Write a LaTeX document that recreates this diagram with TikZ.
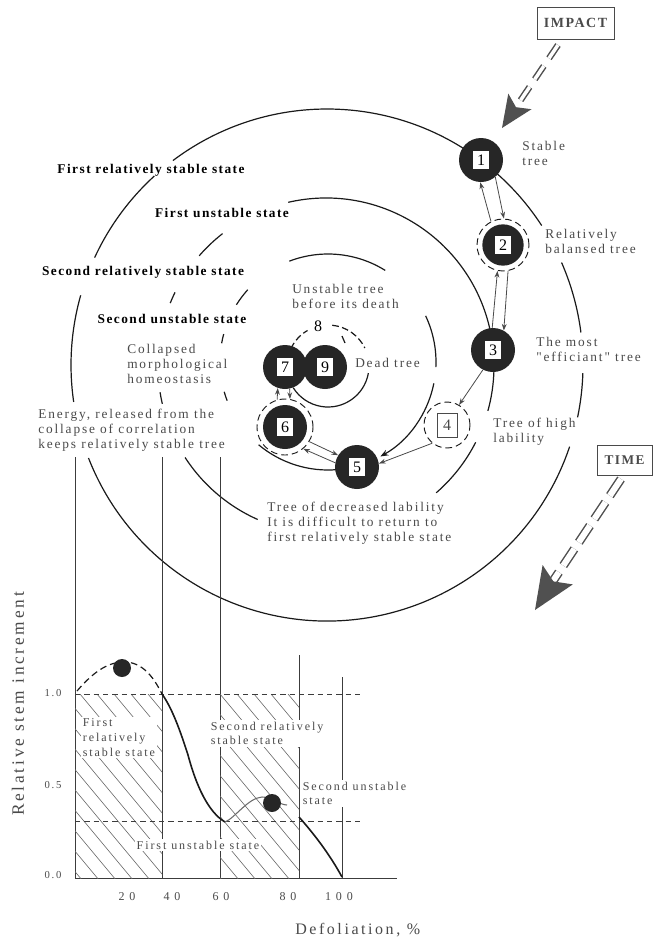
\documentclass[tikz,border=0pt]{standalone}
\usepackage{fontspec}
\setmainfont{Liberation Serif}
\newfontfamily\lblfont[LetterSpace=14]{Liberation Serif}
\newfontfamily\boldfont[LetterSpace=11]{Liberation Serif}
\newfontfamily\chartfont[LetterSpace=16]{Liberation Serif}
\newfontfamily\tickfont[LetterSpace=40]{Liberation Serif}
\newfontfamily\axisfont[LetterSpace=16]{Liberation Serif}
\usetikzlibrary{arrows.meta}
\definecolor{dk}{HTML}{262626}
\definecolor{gt}{HTML}{4A4A4A}
\definecolor{ln}{HTML}{1A1A1A}
\definecolor{ar}{HTML}{505050}
\definecolor{ht}{HTML}{6A6A6A}
\begin{document}
\begin{tikzpicture}[x=0.75pt,y=-0.75pt,
  dkc/.style={circle,fill=dk,minimum size=#1,inner sep=0pt},
  dkc/.default=33pt,
  dring/.style={circle,draw=ln,line width=0.7pt,dash pattern=on 5pt off 3pt,minimum size=#1,inner sep=0pt},
  numsq/.style={fill=white,minimum width=12.5pt,minimum height=13.5pt,inner sep=0pt,font=\fontsize{12}{12}\selectfont},
  tarr/.style={draw=gt,line width=0.6pt,-{Stealth[length=5pt,width=3.6pt]}},
  spl/.style={draw=ln,line width=0.9pt},
  glab/.style={anchor=north west,align=left,text=gt,font=\lblfont\fontsize{10}{11.3}\selectfont,inner sep=0pt},
  blab/.style={text=black,font=\boldfont\bfseries\fontsize{10}{12}\selectfont,inner sep=0pt},
  clab/.style={text=gt,font=\chartfont\fontsize{9}{11}\selectfont,fill=white,inner sep=1.2pt,align=left},
  gridl/.style={draw=ln!85,line width=0.6pt},
  hdash/.style={draw=ln!85,line width=0.6pt,dash pattern=on 4pt off 3pt},
  hatchl/.style={draw=ht,line width=0.45pt},
  dblarr/.style={draw=ar,line width=1.1pt,double=white,double distance=#1},
]
\useasboundingbox (0,0) rectangle (653,940);
\fill[white] (0,0) rectangle (653,940);

% ---------- spiral rings ----------
% outer ring (through 1)
\foreach \a/\b in {233/305,307/327,336.4/352.7,361.8/371.8,378.6/518.7,171.7/195.8,204.8/227.6}
  \draw[spl] (327,365) ++(\a:256) arc[start angle=\a,end angle=\b,radius=256];
% ring through 3
\foreach \a/\b in {257/375.5,27/49,114/147,167/171,202/206,221/232}
  \draw[spl] (326,366) ++(\a:168) arc[start angle=\a,end angle=\b,radius=168];
% ring through 5
\foreach \a/\b in {249/302,334.7/362.7,85/130,159/164,190/195,212/222}
  \draw[spl] (328,362) ++(\a:108) arc[start angle=\a,end angle=\b,radius=108];
% inner loop round 9
\draw[spl] (328,366) ++(370:41) arc[start angle=370,end angle=508,radius=41];
\draw[spl,dash pattern=on 5pt off 2.5pt] (328,366) ++(276:41) arc[start angle=276,end angle=334,radius=41];
\draw[spl,dash pattern=on 5pt off 2.5pt] (328,366) ++(205:41) arc[start angle=205,end angle=240,radius=41];
\draw[spl] (342,336) -- (345,343);

% ---------- state nodes ----------
\node[dkc] (n1) at (481,160) {};
\node[numsq] (s1) at (n1) {1};
\node[dkc=31pt] (c2) at (503,245) {};
\node[dring=39pt] (n2) at (503,245) {};
\node[numsq] (s2) at (n2) {2};
\node[dkc] (n3) at (493,350) {};
\node[numsq] (s3) at (n3) {3};
\node[dring=34.5pt,fill=white] (n4) at (447,425) {};
\node[numsq,draw=gt,line width=0.5pt,minimum width=15pt,minimum height=18pt,text=gt] (s4) at (n4) {4};
\node[dkc] (n5) at (357,467) {};
\node[numsq] (s5) at (n5) {5};
\node[dkc] (c6) at (285,427) {};
\node[dring=42pt] (n6) at (285,427) {};
\node[numsq] (s6) at (n6) {6};
\node[dkc] (n7) at (285,367) {};
\node[dkc] (n9) at (325,367) {};
\node[numsq] (s7) at (n7) {7};
\node[numsq] (s9) at (n9) {9};
\node[font=\fontsize{12}{12}\selectfont,inner sep=0pt] (n8) at (318,326) {8};

% ring arrow into 5
\draw[spl,-{Stealth[length=6pt,width=4.5pt]}] (328,362) ++(371.4:108) arc[start angle=371.4,end angle=421,radius=108];

% ---------- transitions ----------
\draw[tarr] (n2.117) -- (n1.268);
\draw[tarr] (n1.310) -- (n2.88);
\draw[tarr] (n3.92) -- (n2.258);
\draw[tarr] (n2.281) -- (n3.61);
\draw[tarr] (n3.243) -- (n4.59);
\draw[tarr] (n4.231) -- (n5.9);
\draw[tarr] (n6.329) -- (n5.148);
\draw[tarr] (n5.169) -- (n6.310);
\draw[tarr] (n6.106) -- (n7.251);
\draw[tarr] (n7.282) -- (n6.80);

% ---------- node labels ----------
\node[glab] (t1) at (522,141) {Stable\\tree};
\node[glab] (t2) at (545,229) {Relatively\\balansed tree};
\node[glab] (t3) at (536,337) {The most\\"efficiant" tree};
\node[glab] (t4) at (493,418) {Tree of high\\lability};
\node[glab] (t8) at (292,284) {Unstable tree\\before its death};
\node[glab,anchor=west] (t9) at (355,363) {Dead tree};
\node[glab] (tc) at (127,344) {Collapsed\\morphological\\homeostasis};
\node[glab] (te) at (38,409) {Energy, released from the\\collapse of correlation\\keeps relatively stable tree};
\node[glab] (t5) at (267,502) {Tree of decreased lability\\It is difficult to return to\\first relatively stable state};

\node[blab] (b1) at (151,170) {First relatively stable state};
\node[blab] (b2) at (222,213) {First unstable state};
\node[blab] (b3) at (143,272) {Second relatively stable state};
\node[blab] (b4) at (172,319) {Second unstable state};

% ---------- IMPACT / TIME ----------
\node[draw=gt,line width=0.6pt,minimum width=57.75pt,minimum height=24pt,inner sep=0pt,text=gt,
      font=\boldfont\bfseries\fontsize{10.5}{12}\selectfont] (imp) at (575.5,23) {IMPACT};
\coordinate (impA) at (558,45);
\coordinate (impB) at (516,107);
\draw[dblarr=2.6pt,dash pattern=on 12pt off 7pt] (impA) -- (impB);
\fill[ar] (502,128) -- (531.5,109.2) -- (516,107.2) -- (508.3,93.6) -- cycle;

\node[draw=gt,line width=0.6pt,minimum width=41.25pt,minimum height=22.5pt,inner sep=0pt,text=gt,
      font=\boldfont\bfseries\fontsize{10}{12}\selectfont] (tim) at (624.5,460) {TIME};
\coordinate (timA) at (621,479);
\coordinate (timB) at (553,581);
\draw[dblarr=4.5pt,dash pattern=on 15pt off 6pt] (timA) -- (timB);
\fill[ar] (535,610) -- (572.8,584.4) -- (553.4,581.4) -- (542.6,565) -- cycle;

% ---------- chart ----------
\draw[gridl] (75,457) -- (75,878) -- (397,878);
\foreach \x in {162,220} \draw[gridl] (\x,457) -- (\x,878);
\draw[gridl] (299,655) -- (299,878);
\draw[gridl] (342,677) -- (342,878);
\begin{scope}
  \clip (75,694) rectangle (162,878);
  \foreach \s in {-90,-73,...,170} \draw[hatchl] (\s,694) -- ++(160,192);
\end{scope}
\begin{scope}
  \clip (220,694) rectangle (299,878);
  \foreach \s in {50,67,...,310} \draw[hatchl] (\s,694) -- ++(160,192);
\end{scope}
\draw[hdash] (75,694) -- (362,694);
\draw[hdash] (75,821) -- (362,821);

\node[clab,anchor=north west] (c1) at (81,717) {First\\relatively\\stable state};
\node[clab,anchor=north west] (c2l) at (209,720) {Second relatively\\stable state};
\node[clab,anchor=north west] (c3) at (301,780) {Second unstable\\state};
\node[clab] (c4) at (198,845) {First unstable state};

\draw[ln,line width=0.9pt,dash pattern=on 5pt off 3pt] (77,691) .. controls (95,670) and (110,661) .. (127,662) .. controls (145,664) and (155,680) .. (162,694);
\draw[ln,line width=1.2pt] (162,694) .. controls (172,708) and (180,730) .. (188,755) .. controls (196,785) and (208,812) .. (225,822);
\draw[ht,line width=0.8pt] (225,822) .. controls (235,818) and (248,798) .. (262,797) .. controls (272,797) and (280,805) .. (287,805);
\draw[ln,line width=1.2pt] (299,817) .. controls (315,835) and (330,855) .. (342,877);
\fill[dk] (122,668) circle (9);
\fill[dk] (272,803) circle (9);

\foreach \v/\y [count=\i] in {1.0/693,0.5/785,0.0/875}
  \node[text=gt,font=\chartfont\fontsize{8}{9}\selectfont,inner sep=0pt] (yt\i) at (53,\y) {\v};
\foreach \v/\x [count=\i] in {20/127,40/172,60/221,80/288,100/339}
  \node[text=gt,font=\tickfont\fontsize{9}{10}\selectfont,inner sep=0pt] (xt\i) at (\x,897) {\v};
\node[rotate=90,text=gt,font=\axisfont\fontsize{13}{14}\selectfont,inner sep=0pt] (ylab) at (18,704) {Relative stem increment};
\node[anchor=west,text=gt,font=\axisfont\fontsize{12}{14}\selectfont,inner sep=0pt] (xlab) at (295,930) {Defoliation, \%};
\end{tikzpicture}
\end{document}
